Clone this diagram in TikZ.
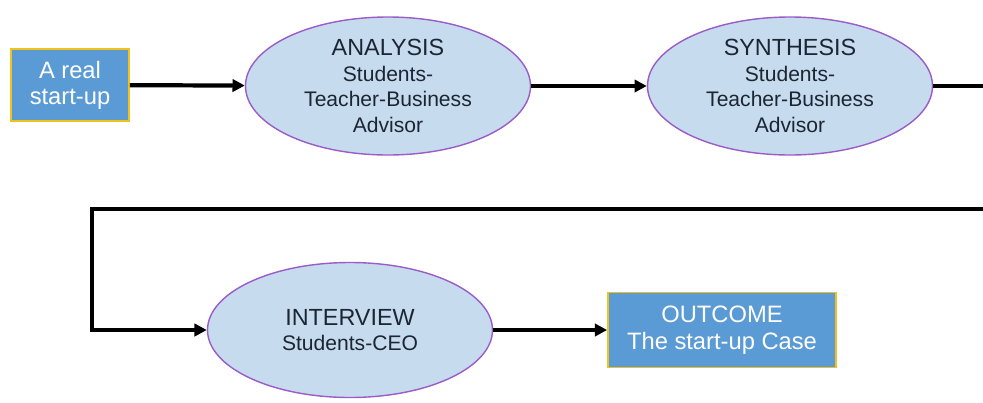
\documentclass[tikz,border=0pt]{standalone}
\usepackage{fontspec}
\setmainfont{Liberation Sans}
\usetikzlibrary{shapes.geometric,arrows.meta}
\definecolor{boxblue}{HTML}{5B9BD5}
\definecolor{boxgold}{HTML}{F2C21B}
\definecolor{ovalfill}{HTML}{C7DBEF}
\definecolor{ovaldraw}{HTML}{9A5CC6}
\definecolor{ovaltext}{HTML}{1C2633}
\begin{document}
\begin{tikzpicture}[
    endbox/.style={rectangle, draw=boxgold, line width=1pt, fill=boxblue, text=white, align=center, inner sep=0pt, font=\fontsize{13.5}{14.8}\selectfont},
    stage/.style={ellipse, draw=ovaldraw, line width=0.8pt, fill=ovalfill, text=ovaltext, align=center, inner sep=0pt, minimum width=5.7cm, minimum height=2.76cm, font=\fontsize{12}{14.7}\selectfont},
    flow/.style={-{Triangle[length=7pt,width=7pt]}, line width=2.4pt},
]
\useasboundingbox (0,0) rectangle (19.66,8.04);
% Top row
\node[endbox, minimum width=2.36cm, minimum height=1.44cm] (startup) at (1.40,6.34) {A real\\start-up};
\node[stage] (analysis) at (7.76,6.32) {{\fontsize{13.3}{14.7}\selectfont ANALYSIS}\\Students-\\Teacher-Business\\Advisor};
\node[stage] (synthesis) at (15.80,6.32) {{\fontsize{13.3}{14.7}\selectfont SYNTHESIS}\\Students-\\Teacher-Business\\Advisor};
% Bottom row
\node[stage, minimum height=2.7cm] (interview) at (7.00,1.44) {{\fontsize{13.3}{14.7}\selectfont INTERVIEW}\\Students-CEO};
\node[endbox, minimum width=4.56cm, minimum height=1.50cm, font=\fontsize{13.5}{15.2}\selectfont] (outcome) at (14.44,1.44) {OUTCOME\\The start-up Case};

% Return path (leaves the picture on the right)
\coordinate (edgeA) at (20.2,6.32);
\coordinate (edgeB) at (20.2,3.86);
\coordinate (leftB) at (1.84,3.86);

% Connections
\draw[flow] (startup) -- (analysis);
\draw[flow] (analysis) -- (synthesis);
\begin{scope}
\clip (0,0) rectangle (19.66,8.04);
\draw[flow] (synthesis.east) -- (edgeA) -- (edgeB) -- (leftB) |- (interview.west);
\end{scope}
\draw[flow] (interview) -- (outcome);
\end{tikzpicture}
\end{document}
